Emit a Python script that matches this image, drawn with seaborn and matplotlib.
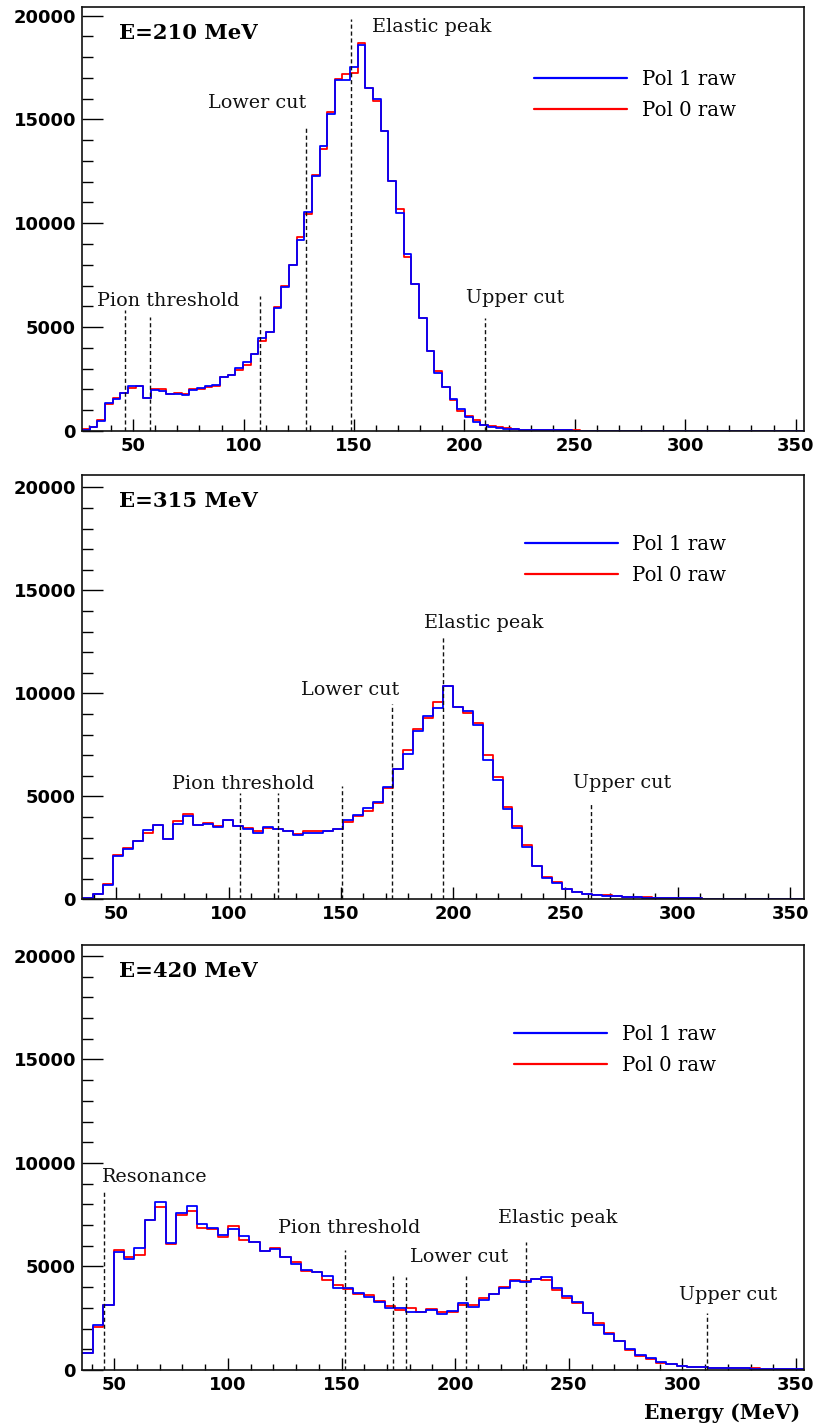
import numpy as np
import pandas as pd
import matplotlib
matplotlib.use("Agg")
import matplotlib.pyplot as plt
from matplotlib.ticker import MultipleLocator
from matplotlib.lines import Line2D
import seaborn as sns

# ---------------------------------------------------------------- data
# Beam energy 210 MeV: binning and raw counts for both polarisation states
start_210, width_210 = 26.8, 3.47
pol1_210 = [50, 180, 500, 1330, 1540, 1845, 2180, 2180, 1600, 1970, 1940, 1780,
            1780, 1730, 1970, 2050, 2165, 2215, 2615, 2695, 3015, 3300, 3705,
            4460, 4750, 5900, 6945, 7990, 9190, 10520, 12290, 13730, 15240,
            16890, 16890, 17530, 18575, 16490, 15990, 14450, 12030, 10475, 8500,
            7075, 5455, 3865, 2775, 2100, 1555, 1040, 690, 450, 290, 210, 160,
            110, 80,
            60, 50, 45, 40, 35, 30, 25, 22, 20, 18, 15, 14, 12, 10, 10, 9, 8, 7,
            7, 6, 6, 5, 5, 4, 4, 4, 3, 3, 3, 3, 2, 2, 2, 2, 2, 1, 1, 1]
pol0_210 = [80, 180, 530, 1280, 1600, 1815, 2085, 2180, 1600, 2020, 2020, 1780,
            1810, 1780, 2000, 2020, 2130, 2165, 2615, 2695, 2935, 3175, 3705,
            4345, 4750, 5950, 6980, 7990, 9320, 10425, 12335, 13550, 15370,
            16940, 17180, 17210, 18700, 16490, 15900, 14450, 12030, 10665, 8390,
            7075, 5455, 3850, 2890, 2130, 1490, 975, 740, 530, 300, 220, 170,
            120, 90,
            70, 55, 50, 42, 36, 30, 27, 24, 20, 18, 16, 14, 12, 11, 10, 9, 8, 8,
            7, 6, 6, 5, 5, 4, 4, 4, 3, 3, 3, 3, 2, 2, 2, 2, 2, 1, 1, 1]
cuts_210 = [46.2, 57.4, 107.6, 128.1, 148.8, 209.4]
cut_tops_210 = [5820, 5470, 6510, 14645, 19810, 5450]

# Beam energy 315 MeV
start_315, width_315 = 35.05, 4.45
pol1_315 = [65, 240, 700, 2090, 2450, 2820, 3350, 3630, 2930, 3680, 4070, 3600,
            3660, 3515, 3870, 3550, 3420, 3220, 3515, 3400, 3340, 3110, 3210,
            3220, 3300, 3430, 3850, 4095, 4420, 4740, 5470, 6310, 7040, 8190,
            8900, 9270, 10350, 9350, 9160, 8460, 6790, 5790, 4365, 3445, 2520,
            1630, 1050, 775, 485, 370, 260, 210,
            180, 150, 125, 105, 90, 75, 65, 55, 48, 42, 36, 32, 28, 25, 22, 20,
            18, 16, 14, 12, 10]
pol0_315 = [65, 240, 730, 2140, 2480, 2850, 3240, 3630, 2930, 3810, 4150, 3600,
            3690, 3580, 3870, 3550, 3480, 3340, 3450, 3400, 3340, 3190, 3300,
            3300, 3300, 3400, 3770, 4045, 4300, 4690, 5420, 6310, 7250, 8250,
            8820, 9590, 10350, 9350, 9060, 8540, 7000, 5920, 4500, 3560, 2640,
            1630, 1100, 825, 485, 370, 270, 215,
            190, 160, 130, 110, 92, 78, 66, 57, 50, 43, 37, 33, 29, 26, 23, 20,
            18, 16, 14, 12, 10]
cuts_315 = [105.0, 121.9, 150.7, 172.6, 195.3, 261.2]
cut_tops_315 = [5145, 5145, 5500, 9480, 12720, 4690]

# Beam energy 420 MeV
start_420, width_420 = 35.9, 4.59
pol1_420 = [805, 2170, 3140, 5710, 5375, 5905, 7240, 8125, 6130, 7595, 7900,
            7030, 6870, 6500, 6790, 6485, 6195, 5730, 5855, 5470, 5115, 4825,
            4745, 4535, 3975, 3940, 3700, 3540, 3280, 2990, 2990, 2800, 2815,
            2895, 2690, 2865, 3220, 3025, 3380, 3685, 3940, 4310, 4250, 4375,
            4490, 3940, 3590, 3300, 2770, 2170, 1720, 1415, 1000, 725, 565, 400,
            290, 210,
            160, 130, 110, 100, 90, 80, 70, 60, 50, 40, 40, 30]
pol0_420 = [835, 2075, 3140, 5790, 5455, 5550, 7240, 7850, 6100, 7465, 7675,
            6840, 6805, 6420, 6970, 6260, 6160, 5730, 5905, 5455, 5215, 4795,
            4715, 4330, 4100, 3895, 3650, 3620, 3345, 3105, 2910, 2975, 2800,
            2930, 2785, 2800, 3140, 3140, 3490, 3685, 3990, 4345, 4310, 4410,
            4345, 3860, 3490, 3250, 2735, 2250, 1770, 1415, 965, 690, 515, 355,
            290, 210,
            170, 140, 115, 100, 90, 85, 75, 65, 55, 45, 40, 35]
cuts_420 = [45.3, 151.5, 172.8, 178.4, 204.7, 231.3, 310.6]
cut_tops_420 = [8690, 5790, 4540, 4510, 4540, 6195, 2770]

beam_titles = ["E=210 MeV", "E=315 MeV", "E=420 MeV"]
series_labels = ["Pol 1 raw", "Pol 0 raw"]

# ---------------------------------------------------------------- layout
panels = [
    dict(title=beam_titles[0], start=start_210, width=width_210,
         pol1=pol1_210, pol0=pol0_210, cuts=cuts_210, tops=cut_tops_210,
         rect=[0.1006, 0.6982, 0.8859, 0.2969], xlim=(26.8, 353.8), ylim=20410,
         legend_at=(0.6265, 0.852),
         notes=[("Pion threshold", 0.0212, 0.295), ("Lower cut", 0.174, 0.762),
                ("Elastic peak", 0.401, 0.941), ("Upper cut", 0.532, 0.3026)]),
    dict(title=beam_titles[1], start=start_315, width=width_315,
         pol1=pol1_315, pol0=pol0_315, cuts=cuts_315, tops=cut_tops_315,
         rect=[0.1006, 0.3702, 0.8859, 0.2971], xlim=(34.7, 356.2), ylim=20600,
         legend_at=(0.6136, 0.859),
         notes=[("Pion threshold", 0.125, 0.259), ("Lower cut", 0.303, 0.4815),
                ("Elastic peak", 0.4737, 0.640), ("Upper cut", 0.6796, 0.2616)]),
    dict(title=beam_titles[2], start=start_420, width=width_420,
         pol1=pol1_420, pol0=pol0_420, cuts=cuts_420, tops=cut_tops_420,
         rect=[0.1006, 0.0406, 0.8859, 0.2976], xlim=(35.8, 353.5), ylim=20520,
         legend_at=(0.5988, 0.813),
         notes=[("Resonance", 0.0272, 0.4416), ("Pion threshold", 0.271, 0.3216),
                ("Lower cut", 0.4543, 0.2549), ("Elastic peak", 0.5757, 0.345),
                ("Upper cut", 0.8264, 0.1647)]),
]

sns.set_style("white")
plt.rcParams["font.family"] = ["DejaVu Sans"]
plt.rcParams["text.color"] = "black"
plt.rcParams["xtick.color"] = "black"
plt.rcParams["ytick.color"] = "black"
plt.rcParams["axes.labelcolor"] = "black"

BLUE, RED = "#0000ff", "#ff0000"
SERIF = "DejaVu Serif"

fig = plt.figure(figsize=(8.15, 14.28), dpi=100)

for p in panels:
    ax = fig.add_axes(p["rect"])
    n = len(p["pol1"])
    edges = (p["start"] + p["width"] * np.arange(n + 1)).tolist()
    centers = [0.5 * (a + b) for a, b in zip(edges[:-1], edges[1:])]
    table = pd.DataFrame({"energy": centers,
                          "pol1": np.asarray(p["pol1"], dtype=float),
                          "pol0": np.asarray(p["pol0"], dtype=float)})

    # red first so the blue outline sits on top
    sns.histplot(data=table, x="energy", weights="pol0", bins=edges,
                 element="step", fill=False, color=RED, linewidth=1.3, ax=ax)
    sns.histplot(data=table, x="energy", weights="pol1", bins=edges,
                 element="step", fill=False, color=BLUE, linewidth=1.3, ax=ax)

    ax.vlines(p["cuts"], 0, p["tops"], colors="#111111", linewidth=1.0,
              linestyles=(0, (3, 2)))

    ax.set_xlim(*p["xlim"])
    ax.set_ylim(0, p["ylim"])
    ax.set_xlabel("")
    ax.set_ylabel("")

    ax.xaxis.set_major_locator(MultipleLocator(50))
    ax.xaxis.set_minor_locator(MultipleLocator(10))
    ax.yaxis.set_major_locator(MultipleLocator(5000))
    ax.yaxis.set_minor_locator(MultipleLocator(1000))
    ax.tick_params(axis="y", which="major", direction="in", length=15,
                   width=1.0, pad=4.3, left=True, right=False, colors="black")
    ax.tick_params(axis="y", which="minor", direction="in", length=7.7,
                   width=1.0, left=True, right=False, colors="black")
    ax.tick_params(axis="x", which="major", direction="in", length=8.6,
                   width=1.0, pad=4.3, bottom=True, top=False, colors="black")
    ax.tick_params(axis="x", which="minor", direction="in", length=4.3,
                   width=1.0, bottom=True, top=False, colors="black")
    for lbl in ax.get_xticklabels() + ax.get_yticklabels():
        lbl.set_fontweight("bold")
        lbl.set_fontsize(13)
        lbl.set_fontfamily("DejaVu Sans")
        lbl.set_color("black")
    for sp in ax.spines.values():
        sp.set_visible(True)
        sp.set_color("#111111")
        sp.set_linewidth(1.2)

    ax.text(0.051, 0.925, p["title"], transform=ax.transAxes, family=SERIF,
            fontweight="bold", fontsize=15.2, va="baseline", ha="left",
            color="black")
    for txt, tx, ty in p["notes"]:
        ax.text(tx, ty, txt, transform=ax.transAxes, family=SERIF,
                fontsize=13.8, va="baseline", ha="left", color="#111111")

    handles = [Line2D([], [], color=BLUE, linewidth=1.6),
               Line2D([], [], color=RED, linewidth=1.6)]
    leg = ax.legend(handles, series_labels, loc="upper left",
                    bbox_to_anchor=p["legend_at"], frameon=False,
                    prop=dict(family=SERIF, size=14.2), handlelength=4.7,
                    handletextpad=0.75, labelspacing=0.62, borderpad=0,
                    borderaxespad=0)
    for t in leg.get_texts():
        t.set_color("black")

last = fig.axes[-1]
last.set_xlabel("Energy (MeV)", family=SERIF, fontweight="bold", fontsize=14.5,
                loc="right", color="black")
last.xaxis.set_label_coords(0.9945, -0.078)

fig.savefig("out.png", dpi=100)
